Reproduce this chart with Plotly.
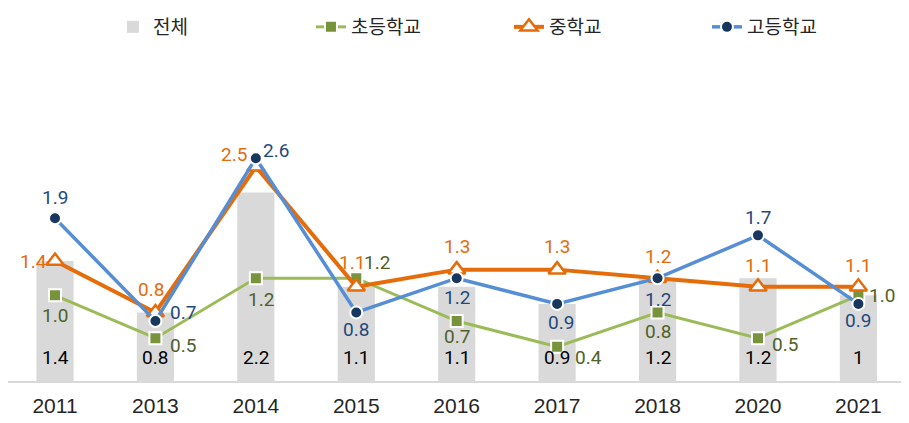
import plotly.graph_objects as go

years = ['2011', '2013', '2014', '2015', '2016', '2017', '2018', '2020', '2021']
total = [1.4, 0.8, 2.2, 1.1, 1.1, 0.9, 1.2, 1.2, 1.0]
total_labels = ['1.4', '0.8', '2.2', '1.1', '1.1', '0.9', '1.2', '1.2', '1']
elem = [1.0, 0.5, 1.2, 1.2, 0.7, 0.4, 0.8, 0.5, 1.0]
middle = [1.4, 0.8, 2.5, 1.1, 1.3, 1.3, 1.2, 1.1, 1.1]
high = [1.9, 0.7, 2.6, 0.8, 1.2, 0.9, 1.2, 1.7, 0.9]

# label offsets from each marker, in pixels (dx, dy with dy positive = up)
elem_off = [(0, -20), (28, -7), (5, -21), (21, 16), (0, -15), (31, -11), (0, -19), (27, -6), (24, 0)]
middle_off = [(-22, 0), (-4, 23), (-22, 12), (-4, 24), (0, 23), (0, 23), (0, 22), (0, 21), (0, 21)]
high_off = [(0, 21), (28, 9), (20, 8), (0, -17), (0, -19), (4, -19), (0, -21), (0, 18), (0, -17)]

LABEL_FONT = 'Roboto, Liberation Sans, Arial'
KR_FONT = 'Noto Sans CJK KR, Noto Sans, sans-serif'

fig = go.Figure()
fig.add_trace(go.Bar(
    x=years, y=total, name='전체', width=0.37,
    marker=dict(color='#D9D9D9', line=dict(width=0)),
))
fig.add_trace(go.Scatter(
    x=years, y=elem, name='초등학교', mode='lines+markers',
    line=dict(color='#9BBB59', width=3),
    marker=dict(symbol='square', size=12, color='#77933C', line=dict(color='white', width=2)),
))
fig.add_trace(go.Scatter(
    x=years, y=middle, name='중학교', mode='lines+markers',
    line=dict(color='#E46C0A', width=4),
    marker=dict(symbol='triangle-up', size=15, color='white', line=dict(color='#E46C0A', width=2.5)),
))
fig.add_trace(go.Scatter(
    x=years, y=high, name='고등학교', mode='lines+markers',
    line=dict(color='#558ED5', width=3.5),
    marker=dict(symbol='circle', size=12, color='#17375E', line=dict(color='white', width=2)),
))

# bar value labels near the base of each bar (x given as category index)
for i, lab in enumerate(total_labels):
    fig.add_annotation(x=i, y=0, yshift=24, text=lab, showarrow=False,
                       yanchor='middle', font=dict(family=LABEL_FONT, size=19, color='black'))

# line value labels, drawn above the lines
for vals, offs, color in [(elem, elem_off, '#4F6228'),
                          (middle, middle_off, '#E46C0A'),
                          (high, high_off, '#1F497D')]:
    for i, (v, (dx, dy)) in enumerate(zip(vals, offs)):
        fig.add_annotation(x=i, y=v, xshift=dx, yshift=dy, text=f'{v:.1f}', showarrow=False,
                           xanchor='center', yanchor='middle',
                           font=dict(family=LABEL_FONT, size=19, color=color))

# the page body has an 8px margin; the figure is sized to fill the rest of the window
fig.update_layout(
    width=901, height=415,
    margin=dict(l=0, r=0, t=109, b=42),
    paper_bgcolor='white', plot_bgcolor='white',
    showlegend=True,
    legend=dict(orientation='h', x=0.1165, xanchor='left', y=1.379, yanchor='middle',
                font=dict(family=KR_FONT, size=19, color='#262626'),
                entrywidth=153, traceorder='normal'),
    xaxis=dict(type='category', categoryorder='array', categoryarray=years,
               range=[-0.468, 8.504],
               showline=True, linecolor='#D9D9D9', linewidth=2, ticks='',
               showgrid=False,
               tickfont=dict(family='Liberation Sans Narrow, Arial Narrow, Liberation Sans', size=21, color='#262626'),
               ticklabelstandoff=5),
    yaxis=dict(range=[0, 3], visible=False),
)

fig.write_html('out.html', config={'displayModeBar': False})
